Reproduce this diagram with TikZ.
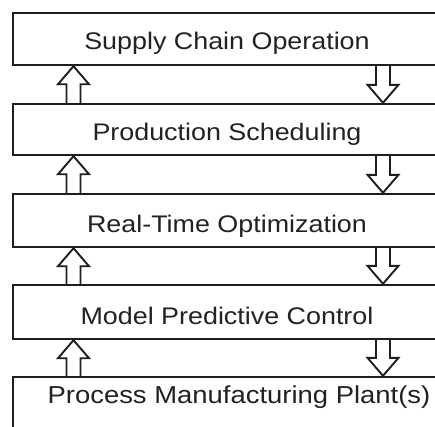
\documentclass[tikz,border=0pt]{standalone}
\usepackage{fontspec}
\setmainfont{Liberation Sans}[FakeStretch=1.12]
\usetikzlibrary{calc}
\definecolor{ink}{HTML}{1E1E1E}
\definecolor{txt}{HTML}{222222}
\begin{document}
\begin{tikzpicture}[x=1pt,y=-1pt,
  layer/.style={draw=ink, line width=2.4pt, minimum width=428pt,
    inner sep=0pt, font=\fontsize{24}{28}\selectfont, text=txt, text depth=0pt},
  label text/.style={inner sep=0pt, font=\fontsize{24.5}{28}\selectfont, text=txt},
  fat/.style={draw=ink, line width=1.9pt, line join=miter}]
\useasboundingbox (0,0) rectangle (435,426);
\clip (0,0) rectangle (435,426);
\fill[white] (0,0) rectangle (435,426);

% hierarchy layers, all running off the right edge
\node[layer, minimum height=52pt, text height=20pt] (b1) at (227,39)  {Supply Chain Operation};
\node[layer, minimum height=51pt, text height=22pt] (b2) at (227,129.5) {Production Scheduling};
\node[layer, minimum height=53pt, text height=23pt] (b3) at (227,220.5) {Real-Time Optimization};
\node[layer, minimum height=54pt, text height=25pt] (b4) at (227,312) {Model Predictive Control};
\node[layer, minimum height=100pt] (b5) at (227,427) {};
\node[label text, anchor=base] (t5) at (239,403) {Process Manufacturing Plant(s)};

% x positions of the upward and downward arrows
\coordinate (ux) at (73.5,0);
\coordinate (dx) at (383,0);

% hollow block arrows between neighbouring layers:
% up arrow from the lower layer (#1) to the upper layer (#2)
\newcommand\feedbackarrow[2]{%
  \coordinate (B) at (#1.north -| ux);
  \coordinate (T) at (#2.south -| ux);
  \draw[fat] ($(B)+(-7,0)$) -- ($(T)+(-7,18)$) -- ($(T)+(-15.5,18)$) -- (T)
    -- ($(T)+(15.5,18)$) -- ($(T)+(7,18)$) -- ($(B)+(7,0)$);}
% down arrow from the upper layer (#1) to the lower layer (#2)
\newcommand\commandarrow[2]{%
  \coordinate (B) at (#1.south -| dx);
  \coordinate (T) at (#2.north -| dx);
  \draw[fat] ($(B)+(-7,0)$) -- ($(T)+(-7,-18)$) -- ($(T)+(-15.5,-18)$) -- (T)
    -- ($(T)+(15.5,-18)$) -- ($(T)+(7,-18)$) -- ($(B)+(7,0)$);}

\feedbackarrow{b2}{b1} \commandarrow{b1}{b2}
\feedbackarrow{b3}{b2} \commandarrow{b2}{b3}
\feedbackarrow{b4}{b3} \commandarrow{b3}{b4}
\feedbackarrow{b5}{b4} \commandarrow{b4}{b5}
\end{tikzpicture}
\end{document}
